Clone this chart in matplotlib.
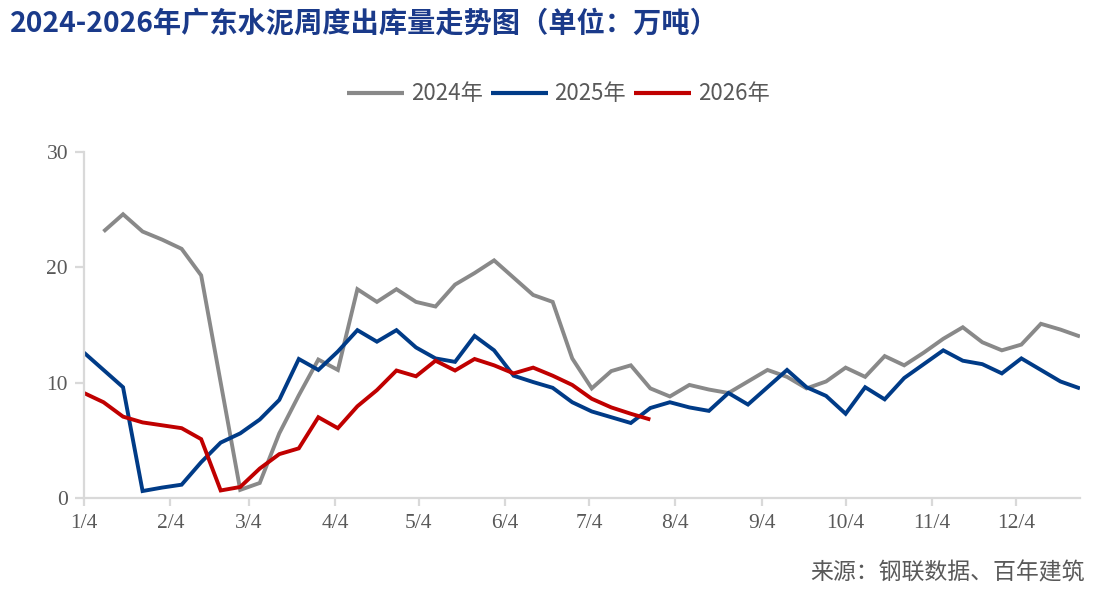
import numpy as np
import matplotlib
matplotlib.use("Agg")
import matplotlib.pyplot as plt
from datetime import date

plt.rcParams['font.family'] = ['Noto Sans CJK SC', 'DejaVu Sans']

# ---- data ----
series_names = ["2024年", "2025年", "2026年"]
s2024 = [np.nan, 23.1, 24.6, 23.1, 22.4, 21.6, 19.3, 10.0, 0.7, 1.3,
         5.6, 8.9, 12.0, 11.1, 18.1, 17.0, 18.1, 17.0, 16.6, 18.5,
         19.5, 20.6, 19.1, 17.6, 17.0, 12.1, 9.5, 11.0, 11.5, 9.5,
         8.8, 9.8, 9.4, 9.1, 10.1, 11.1, 10.5, 9.5, 10.1, 11.3,
         10.5, 12.3, 11.5, 12.6, 13.8, 14.8, 13.5, 12.8, 13.3, 15.1,
         14.6, 14.0]
s2025 = [12.6, 11.1, 9.6, 0.6, 0.9, 1.15, 3.1, 4.8, 5.6, 6.8,
         8.5, 12.05, 11.1, 12.7, 14.55, 13.55, 14.55, 13.05, 12.1, 11.8,
         14.05, 12.8, 10.6, 10.05, 9.55, 8.3, 7.5, 7.0, 6.5, 7.8,
         8.3, 7.85, 7.55, 9.1, 8.1, 9.6, 11.1, 9.6, 8.85, 7.3,
         9.6, 8.55, 10.4, 11.6, 12.8, 11.9, 11.6, 10.8, 12.1, 11.1,
         10.1, 9.5]
s2026 = [9.1, 8.3, 7.05, 6.55, 6.3, 6.05, 5.1, 0.65, 0.95, 2.55,
         3.8, 4.3, 7.0, 6.05, 7.95, 9.35, 11.05, 10.55, 11.9, 11.05,
         12.05, 11.5, 10.8, 11.3, 10.6, 9.8, 8.6, 7.85, 7.3, 6.8]
tick_labels = ["1/4", "2/4", "3/4", "4/4", "5/4", "6/4", "7/4", "8/4",
               "9/4", "10/4", "11/4", "12/4"]
y_ticks = [0, 10, 20, 30]
colors = ["#898989", "#003B87", "#C00000"]

# ---- figure ----
fig = plt.figure(figsize=(11.08, 6.14), dpi=100)
ax = fig.add_axes([0.0758, 0.189, 0.8989, 0.5635])

weeks = np.arange(52)
for vals, name, c in zip([s2024, s2025, s2026], series_names, colors):
    ax.plot(weeks[:len(vals)], vals, color=c, lw=2.8, label=name,
            solid_joinstyle='miter', solid_capstyle='butt')

start = date(2025, 1, 4)
tick_pos = [(date(2025, m, 4) - start).days / 7 for m in range(1, 13)]
ax.set_xticks(tick_pos)
ax.set_xticklabels(tick_labels)
ax.set_yticks(y_ticks)
ax.set_xlim(0, 51)
ax.set_ylim(0, 30)

for side in ["top", "right"]:
    ax.spines[side].set_visible(False)
for side in ["left", "bottom"]:
    ax.spines[side].set_color("#D9D9D9")
    ax.spines[side].set_linewidth(1.6)
ax.tick_params(axis='y', colors="#D9D9D9", width=1.6, length=6.5,
               labelcolor="#595959", labelsize=15.5, pad=5)
ax.tick_params(axis='x', colors="#D9D9D9", width=1.6, length=5.5,
               labelcolor="#595959", labelsize=15.5, pad=6)
for lab in ax.get_xticklabels() + ax.get_yticklabels():
    lab.set_family("Liberation Serif")
ax.patch.set_alpha(0)

fig.text(0.009, 0.962, "2024-2026年广东水泥周度出库量走势图（单位：万吨）",
         fontsize=20.3, fontweight='bold', color="#1A3A8A", va='center', ha='left')

leg = fig.legend(loc='center', bbox_to_anchor=(0.504, 0.847), ncol=3,
                 frameon=False, fontsize=16, handlelength=2.57,
                 handletextpad=0.3, columnspacing=0.35)
for t in leg.get_texts():
    t.set_color("#595959")
for h in leg.get_lines():
    h.set_linewidth(3)

fig.text(0.979, 0.067, "来源：钢联数据、百年建筑", fontsize=16.5, color="#595959",
         ha='right', va='center')

fig.savefig("out.png", dpi=100)
